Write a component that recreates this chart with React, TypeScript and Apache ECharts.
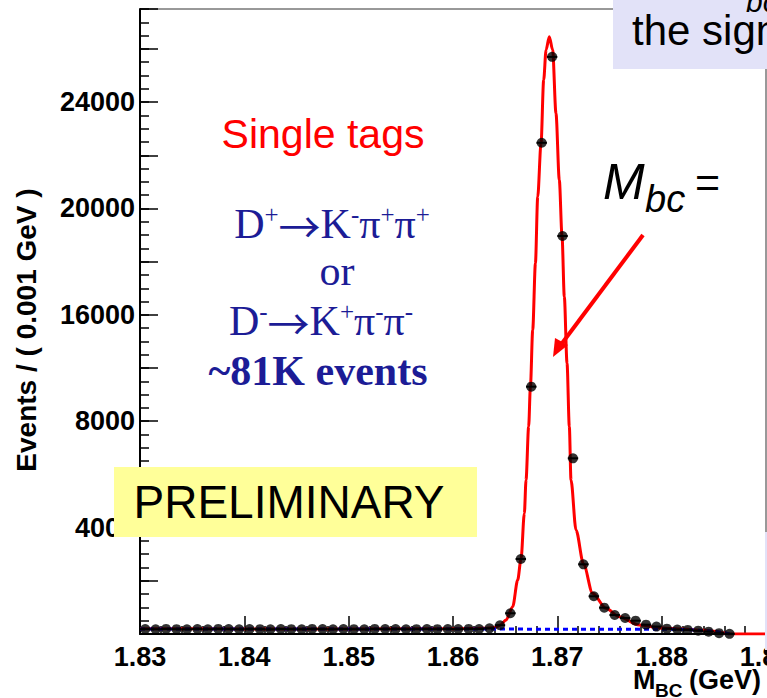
import React, { useEffect, useRef } from "react";
import * as echarts from "echarts";

// ---- data ----
const binWidth = 0.001;
const binCenters = [
  1.8305, 1.8315, 1.8325, 1.8335, 1.8345, 1.8355, 1.8365, 1.8375, 1.8385, 1.8395,
  1.8405, 1.8415, 1.8425, 1.8435, 1.8445, 1.8455, 1.8465, 1.8475, 1.8485, 1.8495,
  1.8505, 1.8515, 1.8525, 1.8535, 1.8545, 1.8555, 1.8565, 1.8575, 1.8585, 1.8595,
  1.8605, 1.8615, 1.8625, 1.8635, 1.8645, 1.8655, 1.8665, 1.8675, 1.8685, 1.8695,
  1.8705, 1.8715, 1.8725, 1.8735, 1.8745, 1.8755, 1.8765, 1.8775, 1.8785, 1.8795,
  1.8805, 1.8815, 1.8825, 1.8835, 1.8845, 1.8855, 1.8865,
];
const binCounts = [
  185, 178, 190, 182, 176, 188, 180, 192, 184, 179,
  186, 181, 175, 189, 183, 178, 191, 185, 180, 187,
  182, 176, 190, 184, 188, 179, 183, 186, 181, 189,
  184, 192, 187, 214, 330, 780, 2820, 9300, 18470, 21700,
  14965, 6606, 2620, 1418, 990, 714, 600, 500, 350, 280,
  200, 165, 155, 125, 88, 30, 5,
];

const fitX = [
  1.83, 1.84, 1.85, 1.86, 1.863, 1.864, 1.8645, 1.86509, 1.86572, 1.8662,
  1.86652, 1.86684, 1.867, 1.86725, 1.86742, 1.86764, 1.8679, 1.86812, 1.86844, 1.86869,
  1.86892, 1.86923, 1.86955, 1.86987, 1.87019, 1.87045, 1.87067, 1.87093, 1.87115, 1.87131,
  1.87179, 1.87252, 1.87338, 1.87466, 1.87593, 1.87785, 1.88, 1.882, 1.884, 1.885,
  1.886, 1.8866, 1.89,
];
const fitY = [
  195, 192, 192, 198, 215, 245, 330, 526, 1027, 2030,
  2820, 4538, 5790, 7795, 9300, 11430, 13940, 16440, 18470, 20830,
  21960, 22460, 21960, 19580, 17070, 14965, 12680, 10180, 7795, 5790,
  3910, 2620, 1530, 966, 650, 340, 230, 185, 140, 100,
  40, 0, 0,
];

const bgX = [1.83, 1.85, 1.87, 1.88, 1.882, 1.884, 1.885, 1.886, 1.8865];
const bgY = [185, 185, 183, 180, 168, 135, 105, 50, 0];

const xMin = 1.83;
const xMax = 1.89;
const xStep = 0.01;
const yMin = 0;
const yMax = 23500;
const yMajor = 2000;
const yMinor = 500;
const yLabelValues = [4000, 8000, 12000, 16000, 20000];
const yLabelTexts = ["4000", "8000", "16000", "20000", "24000"];

const yTitle = "Events / ( 0.001 GeV )";
const tagTitle = "Single tags";
const navy = "#1c1c96";

export default function App() {
  const ref = useRef<HTMLDivElement>(null);

  useEffect(() => {
    document.body.style.margin = "0";
    if (!ref.current) return;
    const chart = echarts.init(ref.current, null, { renderer: "svg" });

    const points = binCenters.map((c, i) => [c, binCounts[i]]);
    const fit = fitX.map((x, i) => [x, fitY[i]]);
    const bg = bgX.map((x, i) => [x, bgY[i]]);

    const sansBold = { fontFamily: "Liberation Sans", fontWeight: "bold" as const };

    const serif = "Liberation Serif";
    const richD = {
      n: { fontSize: 42, lineHeight: 44, fontFamily: serif, fill: navy },
      a: { fontSize: 42, lineHeight: 44, fontFamily: "Noto Sans CJK SC", fill: navy },
      s: { fontSize: 25, lineHeight: 28, fontFamily: serif, fill: navy, verticalAlign: "top" },
    };

    const option: any = {
      animation: false,
      backgroundColor: "#ffffff",
      grid: {
        left: 140,
        right: 1,
        top: 9,
        bottom: 64,
        show: true,
        borderColor: "#333",
        borderWidth: 1,
        backgroundColor: "transparent",
        containLabel: false,
        outerBoundsMode: "none",
      },
      xAxis: {
        type: "value",
        min: xMin,
        max: xMax,
        interval: xStep,
        axisLine: { show: true, onZero: false, lineStyle: { color: "#000", width: 2 } },
        axisTick: { show: true, inside: true, length: 18, lineStyle: { color: "#000", width: 1.5 } },
        minorTick: { show: true, splitNumber: 5, length: 8, lineStyle: { color: "#000", width: 1.5 } },
        axisLabel: {
          show: true,
          margin: 9,
          fontSize: 27,
          ...sansBold,
          color: "#000",
          showMinLabel: true,
          showMaxLabel: true,
          hideOverlap: false,
          formatter: (v: number) => v.toFixed(2),
        },
        splitLine: { show: false },
      },
      yAxis: [
        {
          type: "value",
          min: yMin,
          max: yMax,
          interval: yMajor,
          axisLine: { show: true, onZero: false, lineStyle: { color: "#000", width: 2 } },
          axisTick: { show: true, inside: true, length: 18, lineStyle: { color: "#000", width: 1.5 } },
          axisLabel: {
            show: true,
            margin: 5,
            fontSize: 27,
            ...sansBold,
            color: "#000",
            formatter: (v: number) => {
              const idx = yLabelValues.findIndex((q) => Math.abs(q - v) < 1);
              return idx >= 0 ? yLabelTexts[idx] : "";
            },
          },
          splitLine: { show: false },
        },
        {
          type: "value",
          min: yMin,
          max: yMax,
          interval: yMinor,
          position: "left",
          axisLine: { show: false },
          axisTick: { show: true, inside: true, length: 9, lineStyle: { color: "#000", width: 1.5 } },
          axisLabel: { show: false },
          splitLine: { show: false },
        },
      ],
      series: [
        {
          type: "line",
          data: fit,
          showSymbol: false,
          smooth: 0.3,
          smoothMonotone: "x",
          lineStyle: { color: "#ff0000", width: 3 },
          z: 2,
        },
        {
          type: "line",
          data: bg,
          showSymbol: false,
          lineStyle: { color: "#0000ff", width: 3, type: [5, 4] },
          z: 3,
        },
        {
          type: "custom",
          data: points,
          encode: { x: 0, y: 1 },
          z: 4,
          renderItem: (_p: any, api: any) => {
            const x = api.value(0);
            const y = api.value(1);
            const a = api.coord([x - binWidth / 2, y]);
            const b = api.coord([x + binWidth / 2, y]);
            return {
              type: "line",
              shape: { x1: a[0], y1: a[1], x2: b[0], y2: b[1] },
              style: { stroke: "#000", lineWidth: 2 },
            };
          },
        },
        {
          type: "scatter",
          data: points,
          symbol: "circle",
          symbolSize: 10,
          itemStyle: { color: "#000" },
          z: 5,
        },
      ],
      graphic: [
        // y axis title
        {
          type: "text",
          x: 26,
          y: 330,
          rotation: Math.PI / 2,
          z: 100,
          style: {
            text: yTitle,
            font: "bold 28px 'Liberation Sans'",
            fill: "#000",
            textAlign: "center",
            textVerticalAlign: "middle",
          },
        },
        // x axis title
        {
          type: "text",
          x: 633,
          y: 680,
          z: 100,
          style: { text: "M", font: "bold 27px 'Liberation Sans'", fill: "#000", textAlign: "left", textVerticalAlign: "middle" },
        },
        {
          type: "text",
          x: 655,
          y: 690,
          z: 100,
          style: { text: "BC", font: "bold 19px 'Liberation Sans'", fill: "#000", textAlign: "left", textVerticalAlign: "middle" },
        },
        {
          type: "text",
          x: 689,
          y: 680,
          z: 100,
          style: { text: "(GeV)", font: "bold 27px 'Liberation Sans'", fill: "#000", textAlign: "left", textVerticalAlign: "middle" },
        },
        // Single tags
        {
          type: "text",
          x: 323,
          y: 134,
          z: 100,
          style: { text: tagTitle, font: "41px 'Liberation Sans'", fill: "#ff0000", textAlign: "center", textVerticalAlign: "middle" },
        },
        {
          type: "text",
          x: 332,
          y: 224,
          z: 100,
          style: {
            text: "{n|D}{s|+}{a|→}{n|K}{s|-}{n|π}{s|+}{n|π}{s|+}",
            rich: richD,
            textAlign: "center",
            textVerticalAlign: "middle",
          },
        },
        {
          type: "text",
          x: 337,
          y: 271,
          z: 100,
          style: { text: "or", font: "42px 'Liberation Serif'", fill: navy, textAlign: "center", textVerticalAlign: "middle" },
        },
        {
          type: "text",
          x: 321,
          y: 321,
          z: 100,
          style: {
            text: "{n|D}{s|-}{a|→}{n|K}{s|+}{n|π}{s|-}{n|π}{s|-}",
            rich: richD,
            textAlign: "center",
            textVerticalAlign: "middle",
          },
        },
        {
          type: "text",
          x: 318,
          y: 371,
          z: 100,
          style: { text: "~81K events", font: "bold 42px 'Liberation Serif'", fill: navy, textAlign: "center", textVerticalAlign: "middle" },
        },
        // PRELIMINARY box
        {
          type: "rect",
          z: 100,
          shape: { x: 114, y: 467, width: 363, height: 70 },
          style: { fill: "#ffff99" },
        },
        {
          type: "text",
          x: 289,
          y: 502,
          z: 101,
          style: { text: "PRELIMINARY", font: "46px 'Liberation Sans'", fill: "#000", textAlign: "center", textVerticalAlign: "middle" },
        },
        // top-right lavender box
        {
          type: "rect",
          z: 100,
          shape: { x: 613, y: 0, width: 154, height: 69 },
          style: { fill: "#e2e2f8" },
        },
        {
          type: "text",
          x: 632,
          y: 30,
          z: 101,
          style: { text: "the signal", font: "42px 'Liberation Sans'", fill: "#000", textAlign: "left", textVerticalAlign: "middle" },
        },
        {
          type: "text",
          x: 746,
          y: 1,
          z: 101,
          style: { text: "bc", font: "italic 30px 'Liberation Sans'", fill: "#000", textAlign: "left", textVerticalAlign: "middle" },
        },
        // bottom-right lavender strip
        {
          type: "rect",
          z: 100,
          shape: { x: 765, y: 532, width: 2, height: 118 },
          style: { fill: "#e2e2f8" },
        },
        // M_bc =
        {
          type: "text",
          x: 603,
          y: 182,
          z: 100,
          style: { text: "M", font: "italic 50px 'Liberation Sans'", fill: "#000", textAlign: "left", textVerticalAlign: "middle" },
        },
        {
          type: "text",
          x: 645,
          y: 199,
          z: 100,
          style: { text: "bc", font: "italic 38px 'Liberation Sans'", fill: "#000", textAlign: "left", textVerticalAlign: "middle" },
        },
        {
          type: "text",
          x: 695,
          y: 182,
          z: 100,
          style: { text: "=", font: "43px 'Liberation Sans'", fill: "#000", textAlign: "left", textVerticalAlign: "middle" },
        },
        // red arrow
        {
          type: "line",
          z: 100,
          shape: { x1: 643, y1: 235, x2: 560, y2: 346 },
          style: { stroke: "#ff0000", lineWidth: 4 },
        },
        {
          type: "polygon",
          z: 100,
          shape: { points: [[553, 357], [555, 338], [568, 345]] },
          style: { fill: "#ff0000" },
        },
      ],
    };

    chart.setOption(option);
    return () => chart.dispose();
  }, []);

  return <div ref={ref} style={{ width: 767, height: 698 }} />;
}
